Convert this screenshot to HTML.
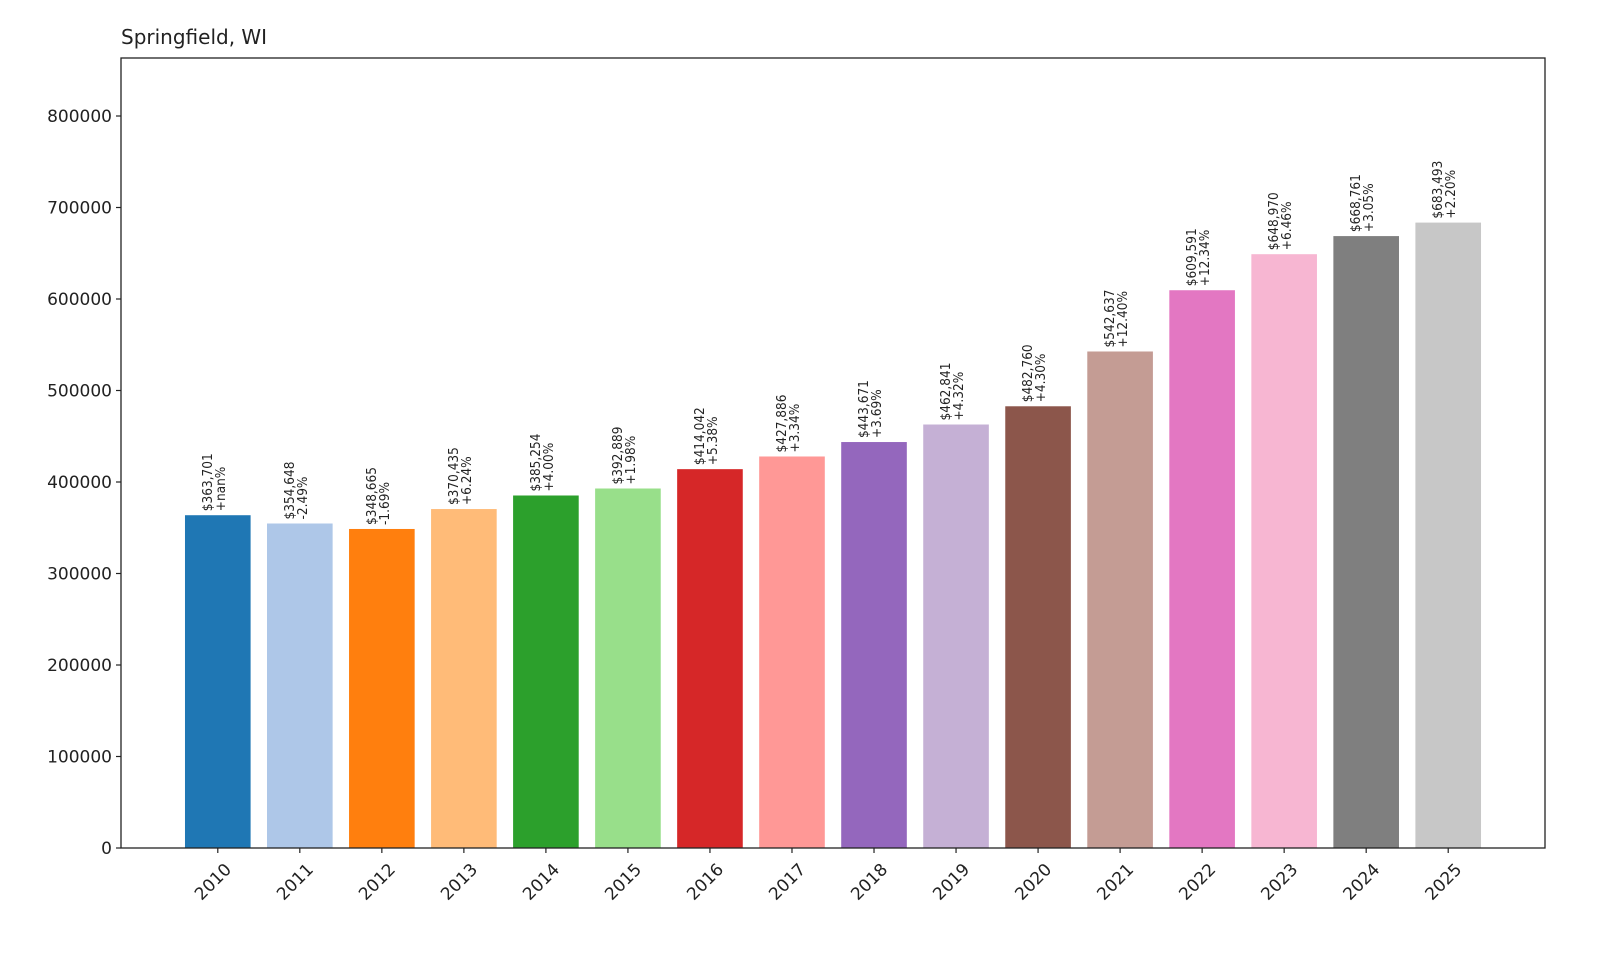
<!DOCTYPE html>
<html><head><meta charset="utf-8"><style>
body{margin:0;background:#fff;}
svg{display:block;font-family:"DejaVu Sans","Liberation Sans",sans-serif;}
</style></head><body>
<svg id="chart" width="1600" height="960">
<rect width="1600" height="960" fill="#fff"/>
<text x="121" y="44" font-size="20" fill="#222">Springfield, WI</text>
<g id="bars"></g><g id="axes"></g>
<rect x="121" y="58" width="1424" height="790" fill="none" stroke="#222" stroke-width="1.3"/>
</svg>
<script>
const years=["2010","2011","2012","2013","2014","2015","2016","2017","2018","2019","2020","2021","2022","2023","2024","2025"];
const values=[363701,354648,348665,370435,385254,392889,414042,427886,443671,462841,482760,542637,609591,648970,668761,683493];
const changes=["+nan%","-2.49%","-1.69%","+6.24%","+4.00%","+1.98%","+5.38%","+3.34%","+3.69%","+4.32%","+4.30%","+12.40%","+12.34%","+6.46%","+3.05%","+2.20%"];
const yTicks=[0,100000,200000,300000,400000,500000,600000,700000,800000];
const colors=["#1f77b4","#aec7e8","#ff7f0e","#ffbb78","#2ca02c","#98df8a","#d62728","#ff9896","#9467bd","#c5b0d5","#8c564b","#c49c94","#e377c2","#f7b6d2","#7f7f7f","#c7c7c7"];
const NS="http://www.w3.org/2000/svg";
const L=121,R=1545,T=58,B=848;
const yMax=800000*(B-T)/(B-116);
const y=v=>B-v/yMax*(B-T);
const step=(R-L)/(years.length-1+2*1.18);
const x=i=>L+(i+1.18)*step;
const bw=step*0.8;
function mk(tag,attrs,parent){const e=document.createElementNS(NS,tag);for(const k in attrs)e.setAttribute(k,attrs[k]);parent.appendChild(e);return e;}
const gb=document.getElementById('bars'),ga=document.getElementById('axes');
values.forEach((v,i)=>{
  const r=mk('rect',{x:x(i)-bw/2,y:y(v),width:bw,height:B-y(v),fill:colors[i]},gb);
  
  
  const t=mk('text',{transform:`translate(${x(i)},${y(v)-4}) rotate(-90)`,'font-size':'13.5',fill:'#222','font-family':'"DejaVu Sans Condensed","Liberation Sans Narrow","DejaVu Sans",sans-serif'},gb);
  
  
  const s1=mk('tspan',{x:0,dy:'-6'},t);s1.textContent='$'+v.toLocaleString('en-US');
  const s2=mk('tspan',{x:0,dy:'13'},t);s2.textContent=changes[i];
  mk('line',{x1:x(i),x2:x(i),y1:B,y2:B+5,stroke:'#222','stroke-width':1.2},ga);
  const tl=mk('text',{transform:`translate(${x(i)+6},${B+14}) rotate(-45)`,'text-anchor':'end','dominant-baseline':'hanging','font-size':'17',fill:'#222'},ga);
  
  
  tl.textContent=years[i];
});
yTicks.forEach(v=>{
  mk('line',{x1:L-5,x2:L,y1:y(v),y2:y(v),stroke:'#222','stroke-width':1.2},ga);
  const t=mk('text',{x:L-9,y:y(v)+6,'text-anchor':'end','font-size':'17',fill:'#222'},ga);
  
  
  t.textContent=v;
});
</script>
</body></html>
